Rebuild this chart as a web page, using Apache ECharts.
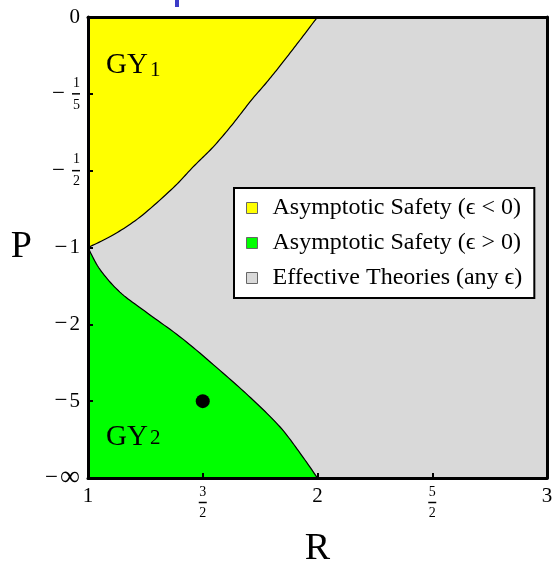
<!DOCTYPE html>
<html>
<head>
<meta charset="utf-8">
<script src="https://cdn.jsdelivr.net/npm/echarts@6/dist/echarts.min.js"></script>
<style>
  html, body { margin: 0; padding: 0; background: #fff; }
  #chart { width: 554px; height: 564px; }
</style>
</head>
<body>
<div id="chart"></div>
<script>
// boundary of the yellow region (eps < 0)
const R_YELLOW = [1, 1.109, 1.227, 1.370, 1.458, 1.545, 1.627, 1.712, 1.780, 1.850, 1.924, 2.0];
const P_YELLOW = [-1, -0.897, -0.766, -0.590, -0.482, -0.393, -0.306, -0.220, -0.164, -0.108, -0.0525, 0];
// boundary of the green region (eps > 0)
const R_GREEN = [1, 1.052, 1.139, 1.257, 1.414, 1.588, 1.719, 1.837, 1.924, 2.0];
const P_GREEN = [-1, -1.21, -1.48, -1.79, -2.32, -3.39, -4.91, -8.04, -17.5, -Infinity];
// whole domain
const R_RANGE = [1, 3];
const P_RANGE = [0, -Infinity];
// the marked point
const POINT = [1.5, -5];

const X_TICK_LABELS = ['1', '3/2', '2', '5/2', '3'];
const Y_TICK_LABELS = ['0', '−1/5', '−1/2', '−1', '−2', '−5', '−∞'];

const NAMES = ['Asymptotic Safety (ϵ < 0)', 'Asymptotic Safety (ϵ > 0)', 'Effective Theories (any ϵ)'];
const COLORS = ['#ffff00', '#00ff00', '#d9d9d9'];

const FONT = "'Liberation Serif', 'DejaVu Serif', serif";

// compactified P axis: P -> 6P/(1-P), so 0 -> 0 and -inf -> -6
function toAxis(p) {
  return p === -Infinity ? -6 : 6 * p / (1 - p);
}

function pts(rs, ps) {
  return rs.map((r, i) => [r, toAxis(ps[i])]);
}

// catmull-rom through pixel points, only for drawing a smooth edge
function spline(p, n) {
  const out = [];
  for (let i = 0; i < p.length - 1; i++) {
    const p0 = p[i - 1] || p[i], p1 = p[i], p2 = p[i + 1], p3 = p[i + 2] || p[i + 1];
    for (let s = 0; s < n; s++) {
      const t = s / n, t2 = t * t, t3 = t2 * t;
      out.push([0, 1].map(k => 0.5 * ((2 * p1[k]) + (-p0[k] + p2[k]) * t +
        (2 * p0[k] - 5 * p1[k] + 4 * p2[k] - p3[k]) * t2 +
        (-p0[k] + 3 * p1[k] - 3 * p2[k] + p3[k]) * t3)));
    }
  }
  out.push(p[p.length - 1]);
  return out;
}

const yellowCurve = pts(R_YELLOW, P_YELLOW);
const greenCurve = pts(R_GREEN, P_GREEN);
const corners = {
  yellow: [[R_RANGE[0], toAxis(P_RANGE[0])]],
  green: [[R_RANGE[0], toAxis(P_RANGE[1])]],
  gray: [
    [R_RANGE[0], toAxis(P_RANGE[0])], [R_RANGE[1], toAxis(P_RANGE[0])],
    [R_RANGE[1], toAxis(P_RANGE[1])], [R_RANGE[0], toAxis(P_RANGE[1])]
  ]
};

function regionSeries(name, color, curve, corner) {
  return {
    name: name,
    type: 'custom',
    z: 1,
    silent: true,
    itemStyle: { color: color },
    data: curve.concat(corner),
    encode: { x: 0, y: 1 },
    renderItem: function (params, api) {
      if (params.dataIndex !== 0) return;
      const edge = curve.length ? spline(curve.map(d => api.coord(d)), 12) : [];
      const children = [{
        type: 'polygon',
        shape: { points: edge.concat(corner.map(d => api.coord(d))) },
        style: { fill: color }
      }];
      if (edge.length) {
        children.push({
          type: 'polyline',
          shape: { points: edge },
          style: { stroke: '#000', lineWidth: 1.2, fill: null }
        });
      }
      return { type: 'group', children: children };
    }
  };
}

function fraction(s) {
  const neg = s.startsWith('−');
  const body = neg ? s.slice(1) : s;
  if (body.indexOf('/') < 0) {
    if (!neg) return '{n|' + body + '}';
    return '{m|−}{g2| }' + (body === '∞' ? '{inf|∞}' : '{n|' + body + '}');
  }
  const [a, b] = body.split('/');
  const mid = neg ? '{mf|−}{g| }{b| }' : '{b| }';
  return '{f|' + a + '}\n' + mid + '\n{f|' + b + '}';
}

const rich = {
  n: { fontFamily: FONT, fontSize: 21, lineHeight: 20, color: '#000' },
  inf: { fontFamily: FONT, fontSize: 28, lineHeight: 20, color: '#000' },
  m: { fontFamily: FONT, fontSize: 23, lineHeight: 20, color: '#000' },
  g2: { width: 2, lineHeight: 20 },
  f: { fontFamily: FONT, fontSize: 14, lineHeight: 11, color: '#000' },
  mf: { fontFamily: FONT, fontSize: 23, lineHeight: 11, color: '#000' },
  g: { width: 7, lineHeight: 11 },
  b: { width: 8, height: 1.5, lineHeight: 11, backgroundColor: '#000', fontSize: 1 }
};
const richX = {
  n: { fontFamily: FONT, fontSize: 21, lineHeight: 20, color: '#000' },
  f: { fontFamily: FONT, fontSize: 14, lineHeight: 12, color: '#000' },
  b: { width: 8, height: 1.5, lineHeight: 9, backgroundColor: '#000', fontSize: 1 }
};

const chart = echarts.init(document.getElementById('chart'));
chart.setOption({
  animation: false,
  grid: { left: 88, right: 7, top: 17, bottom: 86, containLabel: false, outerBoundsMode: 'none' },
  legend: {
    orient: 'vertical',
    left: 234,
    top: 188,
    backgroundColor: '#fff',
    borderColor: '#000',
    borderWidth: 2,
    padding: [8, 12, 8, 12],
    itemWidth: 11,
    itemHeight: 11,
    itemGap: 11,
    icon: 'rect',
    textStyle: { fontFamily: FONT, fontSize: 24, color: '#000', lineHeight: 24, padding: [0, 0, 0, 10] },
    data: NAMES.map((n, i) => ({ name: n, itemStyle: { color: COLORS[i], borderColor: '#666', borderWidth: 1 } }))
  },
  xAxis: [{
    type: 'value',
    min: 1, max: 3, interval: 0.5,
    z: 10,
    name: 'R',
    nameLocation: 'middle',
    nameGap: 52,
    nameTextStyle: { fontFamily: FONT, fontSize: 38, color: '#000' },
    axisLine: { show: true, onZero: false, lineStyle: { color: '#000', width: 3 } },
    axisTick: { show: true, inside: true, length: 5, lineStyle: { color: '#000', width: 2 } },
    splitLine: { show: false },
    axisLabel: {
      margin: 8,
      verticalAlign: 'top',
      formatter: v => fraction(X_TICK_LABELS[Math.round((v - 1) * 2)]),
      rich: richX
    }
  }, {
    type: 'value',
    position: 'top',
    min: 1, max: 3,
    z: 10,
    axisLine: { show: true, onZero: false, lineStyle: { color: '#000', width: 3 } },
    axisTick: { show: false },
    axisLabel: { show: false },
    splitLine: { show: false }
  }],
  yAxis: [{
    type: 'value',
    min: -6, max: 0, interval: 1,
    z: 10,
    name: 'P',
    nameLocation: 'middle',
    nameRotate: 0,
    nameGap: 56,
    nameTextStyle: { fontFamily: FONT, fontSize: 38, color: '#000', align: 'right', verticalAlign: 'middle' },
    axisLine: { show: true, onZero: false, lineStyle: { color: '#000', width: 3 } },
    axisTick: { show: true, inside: true, length: 5, lineStyle: { color: '#000', width: 2 } },
    splitLine: { show: false },
    axisLabel: {
      margin: 8,
      formatter: v => fraction(Y_TICK_LABELS[Math.round(-v)]),
      rich: rich
    }
  }, {
    type: 'value',
    position: 'right',
    min: -6, max: 0,
    z: 10,
    axisLine: { show: true, onZero: false, lineStyle: { color: '#000', width: 3 } },
    axisTick: { show: false },
    axisLabel: { show: false },
    splitLine: { show: false }
  }],
  graphic: [
    { type: 'rect', left: 175, top: 0, shape: { width: 4, height: 7 }, style: { fill: '#3c3cc8' } },
    { type: 'text', left: 106, top: 51, z: 20, style: { text: 'GY', fontFamily: FONT, fontSize: 29, fill: '#000' } },
    { type: 'text', left: 150, top: 60, z: 20, style: { text: '1', fontFamily: FONT, fontSize: 21, fill: '#000' } },
    { type: 'text', left: 106, top: 423, z: 20, style: { text: 'GY', fontFamily: FONT, fontSize: 29, fill: '#000' } },
    { type: 'text', left: 150, top: 428, z: 20, style: { text: '2', fontFamily: FONT, fontSize: 21, fill: '#000' } }
  ],
  series: [
    regionSeries(NAMES[2], COLORS[2], [], corners.gray),
    regionSeries(NAMES[0], COLORS[0], yellowCurve, corners.yellow),
    regionSeries(NAMES[1], COLORS[1], greenCurve, corners.green),
    {
      type: 'scatter',
      z: 5,
      symbolSize: 14,
      itemStyle: { color: '#000', opacity: 1 },
      data: [[POINT[0], toAxis(POINT[1])]]
    }
  ]
});
</script>
</body>
</html>
